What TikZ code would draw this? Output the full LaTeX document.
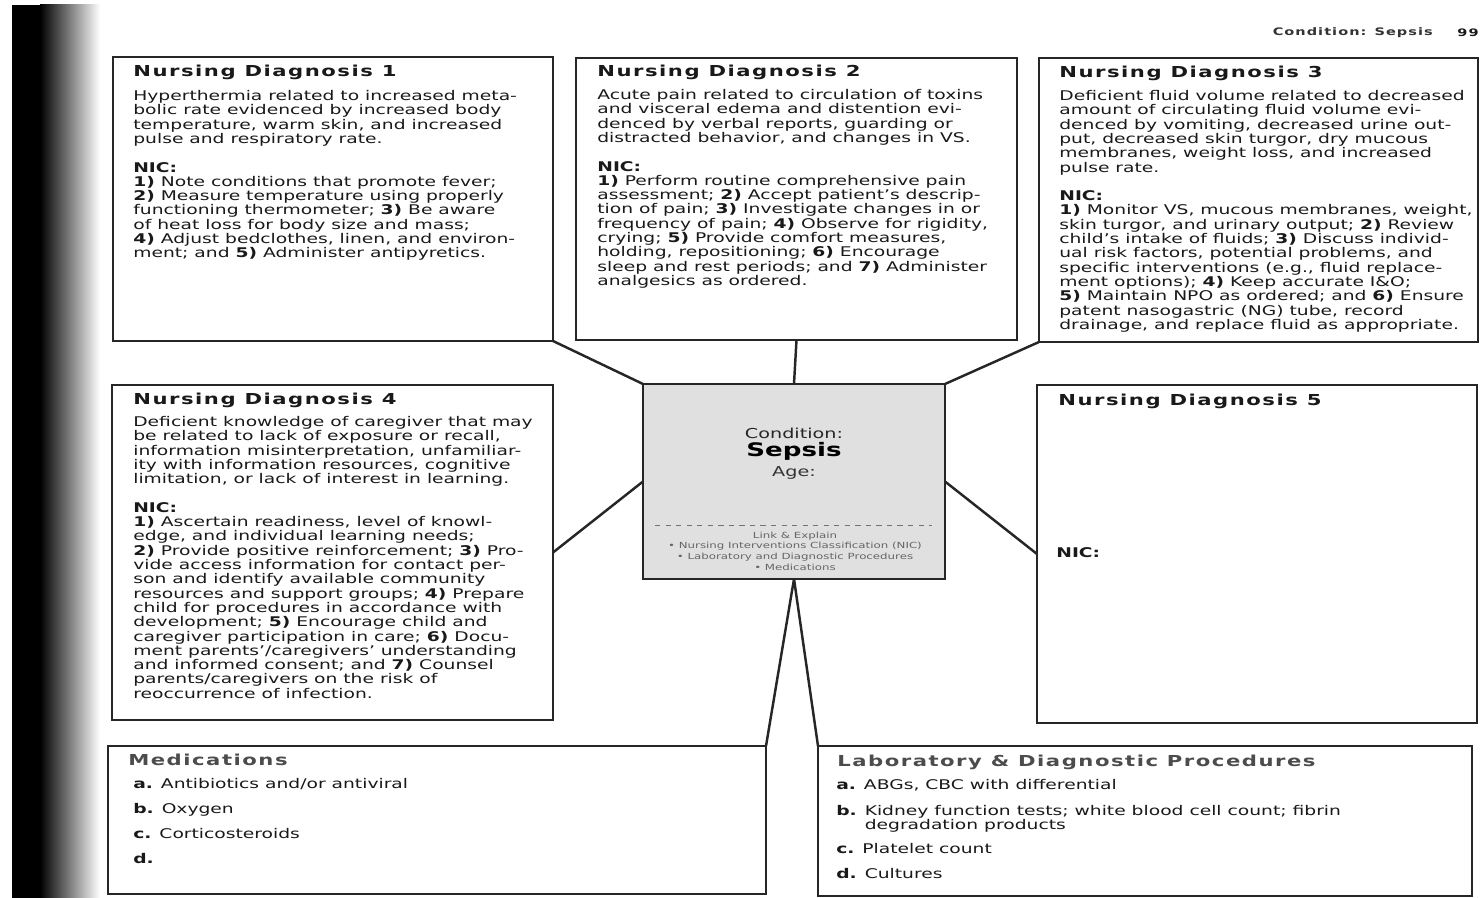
\documentclass[tikz,border=0pt]{standalone}
\usepackage{fontspec}
\usepackage{tikz}
\newfontfamily\bodyfont[FakeStretch=1.40]{DejaVu Sans}
\newfontfamily\headfont[FakeStretch=1.4,LetterSpace=10]{DejaVu Sans}
\newlength{\px}
\setlength{\px}{0.02cm}
\tikzset{
  box/.style={draw=black!85, line width=1.3pt, anchor=north west, inner sep=0pt, outer sep=0pt, fill=white},
  core/.style={box, fill=black!12},
  link/.style={draw=black!85, line width=1.4pt},
  head/.style={anchor=west, inner sep=0pt, text=black!90, font=\headfont\bfseries\fontsize{8.6}{10}\selectfont},
  body/.style={anchor=north west, inner sep=0pt, align=left, text=black!90, font=\bodyfont\fontsize{7.6}{8.14}\selectfont},
}

\begin{document}
\begin{tikzpicture}[x=\px, y=-\px]
            \useasboundingbox (0,0) rectangle (1482,898);
            \fill [black] (12,5) rectangle (40,898);
            \shade [left color=black, right color=white] (40,5) rectangle (100,898);

            \node [anchor=east, inner sep=0pt, text=black!80, font=\headfont\bfseries\fontsize{5.9}{7}\selectfont] (page) at (1433,33) {Condition: Sepsis};
            \node [anchor=east, inner sep=0pt, text=black!90, font=\headfont\bfseries\fontsize{5.9}{7}\selectfont] (pagenum) at (1479,33) {99};

            \node [box, minimum width=440*\px, minimum height=284*\px] (nd1) at (113,57) {};
            \node [box, minimum width=441*\px, minimum height=282*\px] (nd2) at (576,58) {};
            \node [box, minimum width=439*\px, minimum height=284*\px] (nd3) at (1039,58) {};
            \node [box, minimum width=441*\px, minimum height=335*\px] (nd4) at (112,385) {};
            \node [core, minimum width=302*\px, minimum height=195*\px] (cond) at (643,384) {};
            \node [box, minimum width=440*\px, minimum height=338*\px] (nd5) at (1037,385) {};
            \node [box, minimum width=658*\px, minimum height=148*\px] (meds) at (108,746) {};
            \node [box, minimum width=654*\px, minimum height=150*\px] (lab) at (818,746) {};

            \draw [link] (nd1.south east) -- (cond.north west);
            \draw [link] (nd2.south) -- (cond.north);
            \draw [link] (nd3.south west) -- (cond.north east);
            \draw [link] (nd4.east) -- (cond.west);
            \draw [link] (nd5.west) -- (cond.east);
            \draw [link] (cond.south) -- (meds.north east);
            \draw [link] (cond.south) -- (lab.north west);

            \node [head] (h1) at (133,72) {Nursing Diagnosis 1};
            \node [body] (t1) at (133,90) {Hyperthermia related to increased meta-\\bolic rate evidenced by increased body\\temperature, warm skin, and increased\\pulse and respiratory rate.\\[8.14pt]\textbf{NIC:}\\\textbf{1)} Note conditions that promote fever;\\\textbf{2)} Measure temperature using properly\\functioning thermometer; \textbf{3)} Be aware\\of heat loss for body size and mass;\\\textbf{4)} Adjust bedclothes, linen, and environ-\\ment; and \textbf{5)} Administer antipyretics.};

            \node [head] (h2) at (597,72) {Nursing Diagnosis 2};
            \node [body] (t2) at (597,89) {Acute pain related to circulation of toxins\\and visceral edema and distention evi-\\denced by verbal reports, guarding or\\distracted behavior, and changes in VS.\\[8.14pt]\textbf{NIC:}\\\textbf{1)} Perform routine comprehensive pain\\assessment; \textbf{2)} Accept patient’s descrip-\\tion of pain; \textbf{3)} Investigate changes in or\\frequency of pain; \textbf{4)} Observe for rigidity,\\crying; \textbf{5)} Provide comfort measures,\\holding, repositioning; \textbf{6)} Encourage\\sleep and rest periods; and \textbf{7)} Administer\\analgesics as ordered.};

            \node [head] (h3) at (1059,73) {Nursing Diagnosis 3};
            \node [body] (t3) at (1059,90) {Deficient fluid volume related to decreased\\amount of circulating fluid volume evi-\\denced by vomiting, decreased urine out-\\put, decreased skin turgor, dry mucous\\membranes, weight loss, and increased\\pulse rate.\\[8.14pt]\textbf{NIC:}\\\textbf{1)} Monitor VS, mucous membranes, weight,\\skin turgor, and urinary output; \textbf{2)} Review\\child’s intake of fluids; \textbf{3)} Discuss individ-\\ual risk factors, potential problems, and\\specific interventions (e.g., fluid replace-\\ment options); \textbf{4)} Keep accurate I\&O;\\\textbf{5)} Maintain NPO as ordered; and \textbf{6)} Ensure\\patent nasogastric (NG) tube, record\\drainage, and replace fluid as appropriate.};

            \node [head] (h4) at (133,400) {Nursing Diagnosis 4};
            \node [body] (t4) at (133,416) {Deficient knowledge of caregiver that may\\be related to lack of exposure or recall,\\information misinterpretation, unfamiliar-\\ity with information resources, cognitive\\limitation, or lack of interest in learning.\\[8.14pt]\textbf{NIC:}\\\textbf{1)} Ascertain readiness, level of knowl-\\edge, and individual learning needs;\\\textbf{2)} Provide positive reinforcement; \textbf{3)} Pro-\\vide access information for contact per-\\son and identify available community\\resources and support groups; \textbf{4)} Prepare\\child for procedures in accordance with\\development; \textbf{5)} Encourage child and\\caregiver participation in care; \textbf{6)} Docu-\\ment parents’/caregivers’ understanding\\and informed consent; and \textbf{7)} Counsel\\parents/caregivers on the risk of\\reoccurrence of infection.};

            \node [head] (h5) at (1058,401) {Nursing Diagnosis 5};
            \node [body, anchor=west] (t5) at (1056,553) {\textbf{NIC:}};

            \node [inner sep=0pt, text=black!85, font=\bodyfont\fontsize{7.8}{9}\selectfont] (c1) at (794,433) {Condition:};
            \node [inner sep=0pt, text=black, font=\bodyfont\bfseries\fontsize{10.6}{12}\selectfont] (c2) at (794,451) {Sepsis};
            \node [inner sep=0pt, text=black!80, font=\bodyfont\fontsize{7.8}{9}\selectfont] (c3) at (794,473) {Age:};
            \draw [dashed, black!55] (655,525) -- (932,525);
            \node [inner sep=0pt, align=center, text=black!60, font=\bodyfont\fontsize{4.8}{6.1}\selectfont] (c4) at (795,551) {Link \& Explain\\• Nursing Interventions Classification (NIC)\\• Laboratory and Diagnostic Procedures\\• Medications};

            \node [head, text=black!70] (h6) at (128,760) {Medications};
            \node [body] (t6) at (133,778) {\textbf{a.} Antibiotics and/or antiviral\\[6.1pt]\textbf{b.} Oxygen\\[6.1pt]\textbf{c.} Corticosteroids\\[6.1pt]\textbf{d.}};

            \node [head, text=black!70] (h7) at (837,762) {Laboratory \& Diagnostic Procedures};
            \node [body] (t7) at (836,779) {\textbf{a.} ABGs, CBC with differential\\[6.6pt]\textbf{b.} Kidney function tests; white blood cell count; fibrin\\\phantom{\textbf{b.} }degradation products\\[5.5pt]\textbf{c.} Platelet count\\[6.1pt]\textbf{d.} Cultures};
        \end{tikzpicture}
\end{document}
